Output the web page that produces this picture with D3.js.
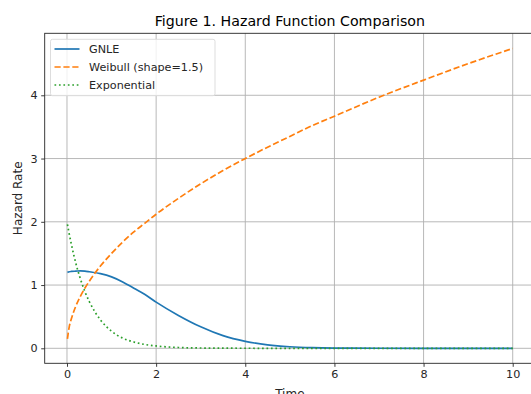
<!DOCTYPE html>
<html>
<head>
<meta charset="utf-8">
<script src="https://cdn.jsdelivr.net/npm/d3@7"></script>
<style>
  body { margin: 0; background: #fff; }
  svg { display: block; font-family: "DejaVu Sans", sans-serif; }
</style>
</head>
<body>
<svg id="chart"></svg>
<script>
const time = [0.01, 0.05, 0.1, 0.2, 0.3, 0.4, 0.5, 0.75, 1, 1.25, 1.5, 1.75, 2, 2.5, 3, 3.5, 4, 4.5, 5, 5.5, 6, 7, 8, 9, 10];
const gnle = [1.20, 1.21, 1.215, 1.22, 1.225, 1.22, 1.21, 1.18, 1.13, 1.05, 0.95, 0.85, 0.73, 0.52, 0.34, 0.20, 0.11, 0.055, 0.025, 0.01, 0.004, 0.001, 0, 0, 0];
const weibull = [0.15, 0.34, 0.47, 0.67, 0.82, 0.95, 1.06, 1.30, 1.50, 1.68, 1.84, 1.98, 2.12, 2.37, 2.60, 2.81, 3.00, 3.18, 3.35, 3.52, 3.67, 3.97, 4.24, 4.50, 4.74];
const exponential = [1.96, 1.81, 1.64, 1.34, 1.10, 0.90, 0.74, 0.45, 0.27, 0.16, 0.10, 0.06, 0.037, 0.013, 0.005, 0.002, 0.001, 0, 0, 0, 0, 0, 0, 0, 0];
const xTicks = [0, 2, 4, 6, 8, 10];
const yTicks = [0, 1, 2, 3, 4];
const seriesNames = ["GNLE", "Weibull (shape=1.5)", "Exponential"];

const width = 531;
const height = 394;
const margin = { top: 33.3, right: -4, bottom: 30.7, left: 44.7 };

const svg = d3.select("#chart").attr("width", width).attr("height", height);

const x = d3.scaleLinear()
    .domain([-0.5, 10.5])
    .range([margin.left, width - margin.right]);

const y = d3.scaleLinear()
    .domain([-0.237, 4.98])
    .range([height - margin.bottom, margin.top]);

// grid
const grid = svg.append("g").attr("stroke", "#b0b0b0").attr("stroke-width", 0.9);
grid.selectAll(".gx").data(xTicks).join("line")
    .attr("x1", d => x(d)).attr("x2", d => x(d))
    .attr("y1", y.range()[1]).attr("y2", y.range()[0]);
grid.selectAll(".gy").data(yTicks).join("line")
    .attr("y1", d => y(d)).attr("y2", d => y(d))
    .attr("x1", x.range()[0]).attr("x2", x.range()[1]);

const series = [
    { name: seriesNames[0], values: gnle, color: "#1f77b4", dash: null },
    { name: seriesNames[1], values: weibull, color: "#ff7f0e", dash: "6.2,2.7" },
    { name: seriesNames[2], values: exponential, color: "#2ca02c", dash: "1.7,2.75" }
];

const line = d3.line()
    .x(d => x(d[0]))
    .y(d => y(d[1]))
    .curve(d3.curveMonotoneX);

svg.append("g").selectAll("path")
    .data(series)
    .join("path")
    .attr("fill", "none")
    .attr("stroke", d => d.color)
    .attr("stroke-width", 1.7)
    .attr("stroke-dasharray", d => d.dash)
    .attr("d", d => line(time.map((t, i) => [t, d.values[i]])));

// axes
const xAxis = svg.append("g")
    .attr("transform", `translate(0, ${height - margin.bottom})`)
    .call(d3.axisBottom(x).tickValues(xTicks).tickFormat(d3.format("d")).tickSize(3.5).tickPadding(3.5).tickSizeOuter(0));
const yAxis = svg.append("g")
    .attr("transform", `translate(${margin.left}, 0)`)
    .call(d3.axisLeft(y).tickValues(yTicks).tickFormat(d3.format("d")).tickSize(3.5).tickPadding(3.5).tickSizeOuter(0));

[xAxis, yAxis].forEach(a => {
    a.attr("font-size", "11.2px").attr("font-family", "DejaVu Sans, sans-serif");
    a.selectAll("text").attr("fill", "#262626");
    a.selectAll("line").attr("stroke", "#262626").attr("stroke-width", 0.9);
    a.select(".domain").remove();
});

// spines
svg.append("rect")
    .attr("x", x.range()[0]).attr("y", y.range()[1])
    .attr("width", x.range()[1] - x.range()[0])
    .attr("height", y.range()[0] - y.range()[1])
    .attr("fill", "none").attr("stroke", "#262626").attr("stroke-width", 0.9);

// title and labels
svg.append("text")
    .attr("x", (x.range()[0] + x.range()[1]) / 2).attr("y", 25.5)
    .attr("text-anchor", "middle").attr("font-size", "14.2px").attr("fill", "#000")
    .text("Figure 1. Hazard Function Comparison");

svg.append("text")
    .attr("x", (x.range()[0] + x.range()[1]) / 2).attr("y", 398)
    .attr("text-anchor", "middle").attr("font-size", "12px").attr("fill", "#262626")
    .text("Time");

svg.append("text")
    .attr("transform", `translate(22, ${(y.range()[0] + y.range()[1]) / 2}) rotate(-90)`)
    .attr("text-anchor", "middle").attr("font-size", "12px").attr("fill", "#262626")
    .text("Hazard Rate");

// legend
const legend = svg.append("g").attr("transform", "translate(50.5, 39.3)");
legend.append("rect")
    .attr("width", 164.5).attr("height", 56.4).attr("rx", 2)
    .attr("fill", "#fff").attr("fill-opacity", 0.8)
    .attr("stroke", "#d9d9d9").attr("stroke-width", 0.9);
const item = legend.selectAll(".item").data(series).join("g")
    .attr("transform", (d, i) => `translate(0, ${9.7 + i * 18})`);
item.append("line")
    .attr("x1", 4).attr("x2", 29)
    .attr("stroke", d => d.color).attr("stroke-width", 1.7)
    .attr("stroke-dasharray", d => d.dash);
item.append("text")
    .attr("x", 38.5).attr("dy", "0.35em")
    .attr("font-size", "11.2px").attr("fill", "#262626")
    .text(d => d.name);
</script>
</body>
</html>
